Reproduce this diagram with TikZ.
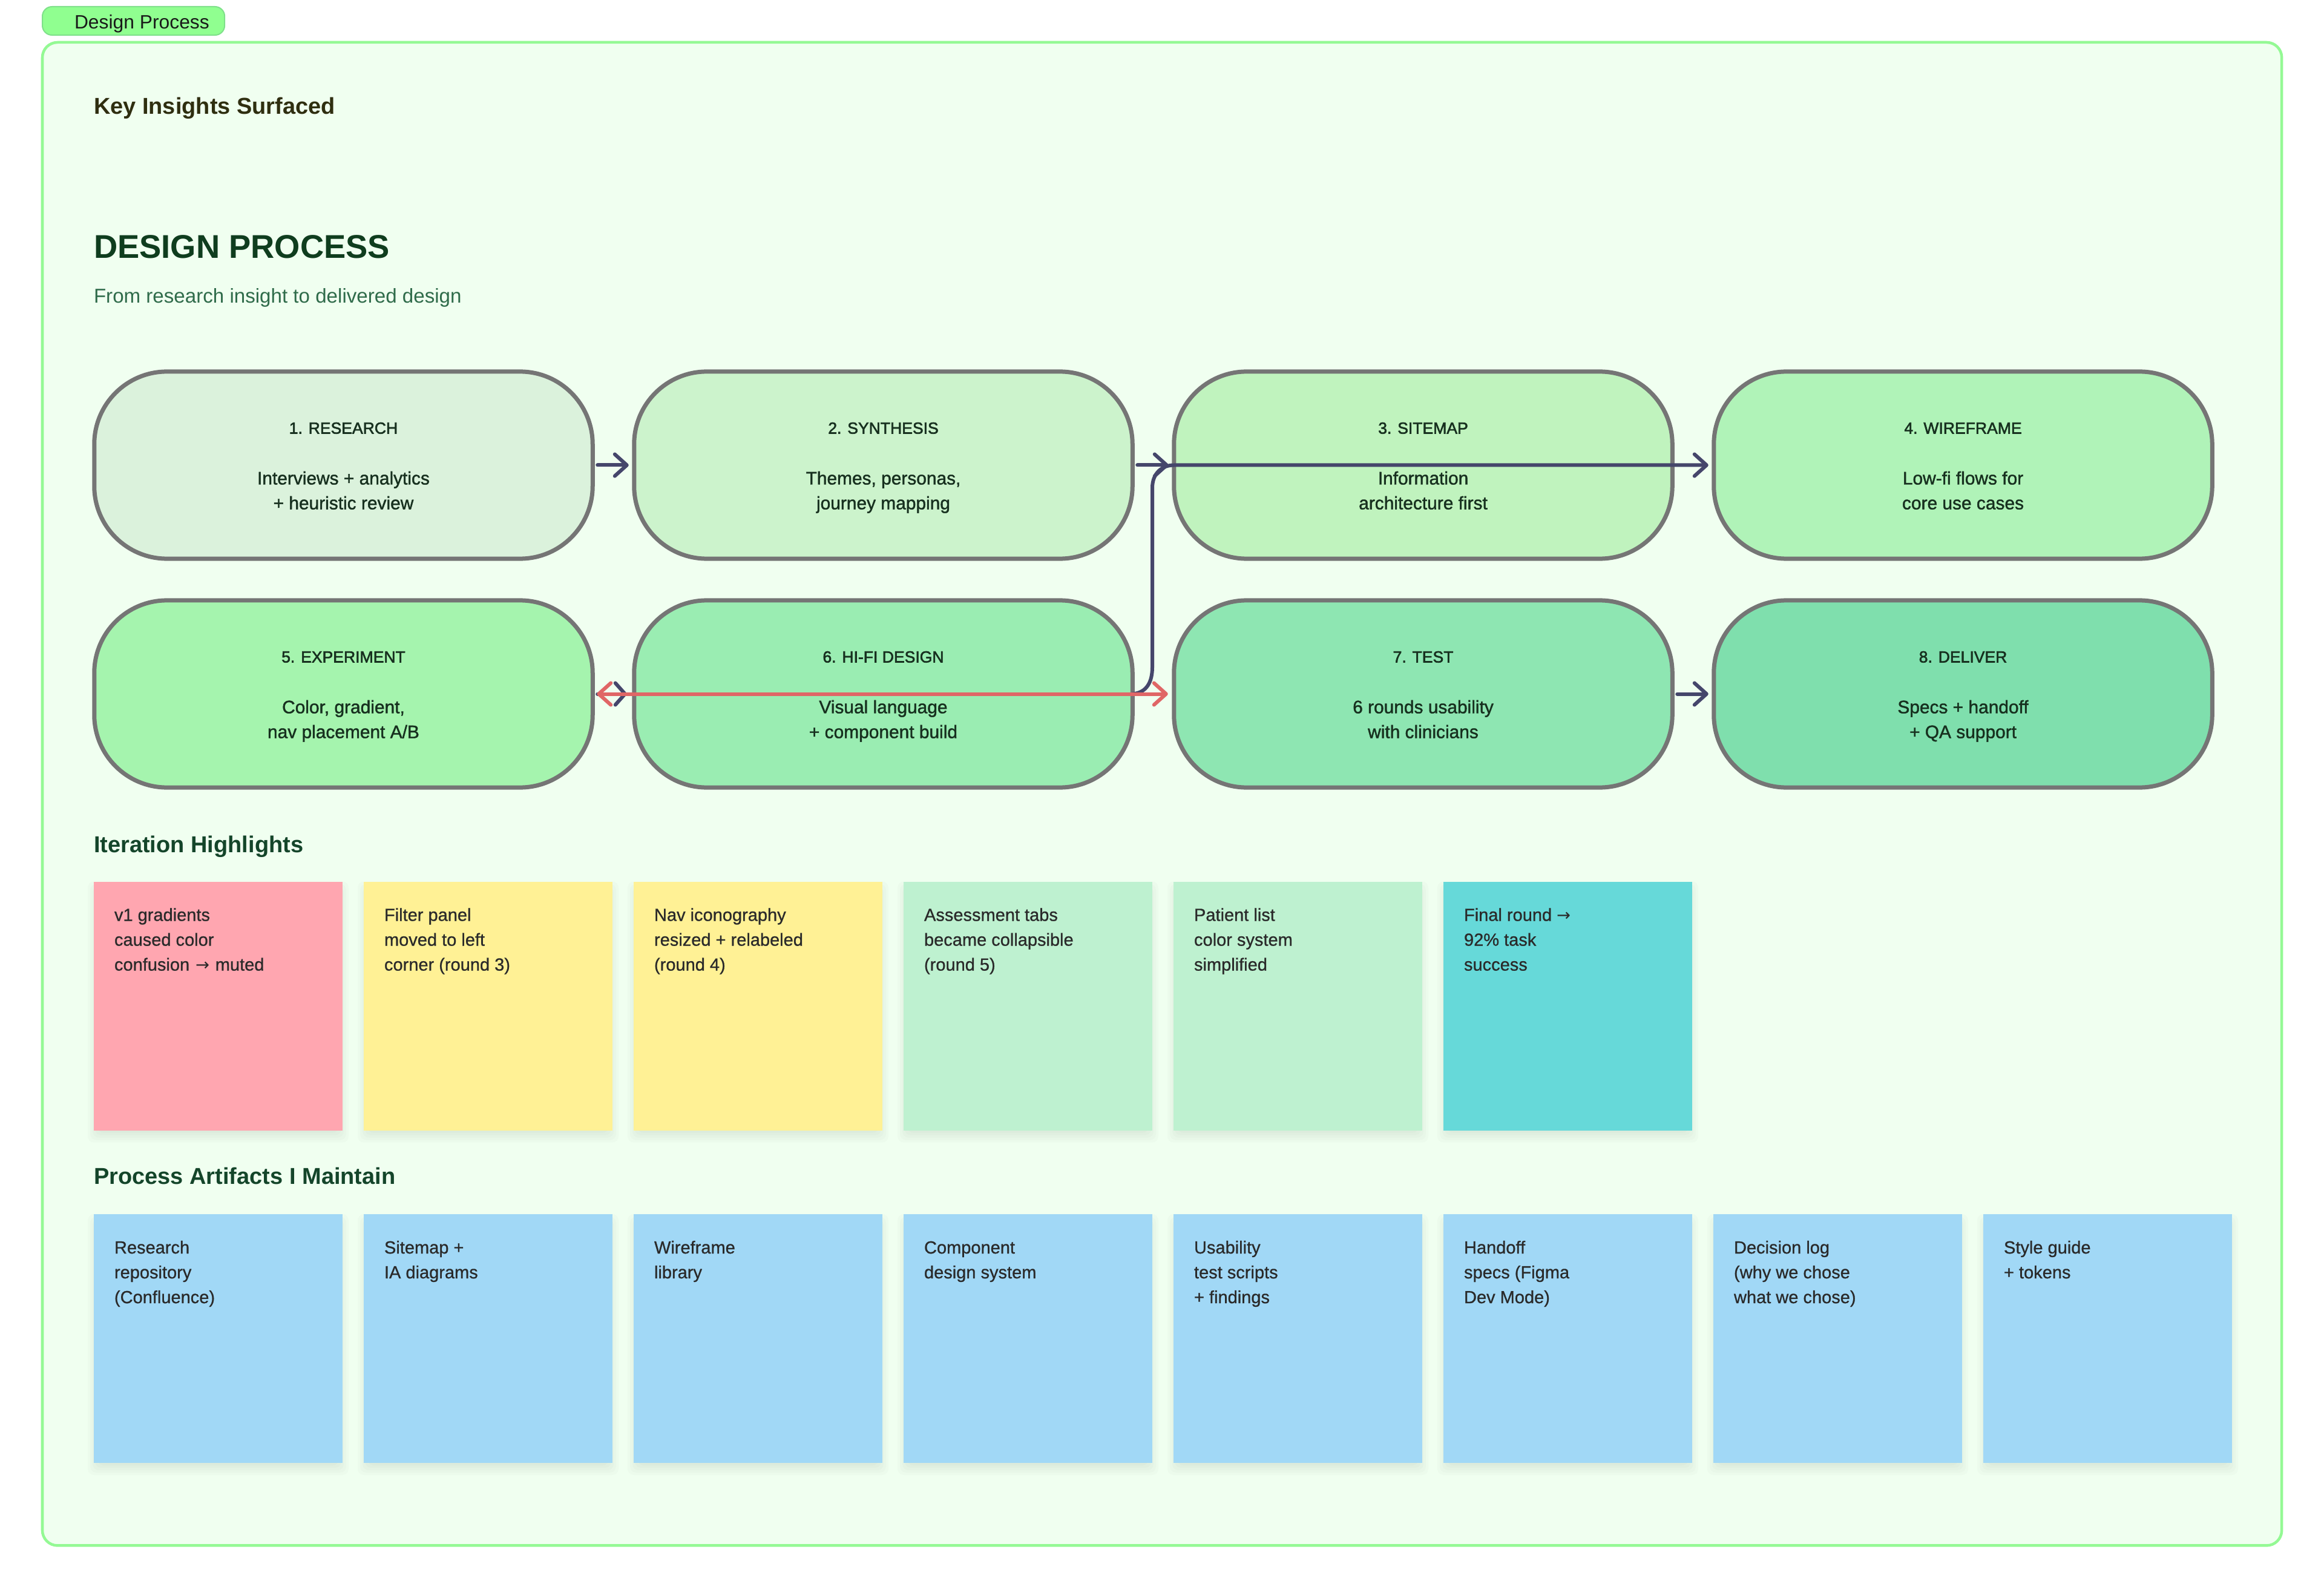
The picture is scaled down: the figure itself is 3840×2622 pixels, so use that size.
\documentclass[tikz,border=0pt]{standalone}
\usepackage{fontspec}
\setmainfont{Liberation Sans}
\newfontfamily\stickyf[FakeBold=0.8]{Liberation Sans}
\newfontfamily\medf[FakeBold=1.4]{Liberation Sans}
\newfontfamily\titlef[FakeBold=2.2]{Liberation Sans}
\newfontfamily\arrowf{DejaVu Sans}
\usetikzlibrary{arrows.meta,calc}
\definecolor{framefill}{HTML}{F0FFF0}
\definecolor{framedraw}{HTML}{94F994}
\definecolor{tagfill}{HTML}{90FF90}
\definecolor{tagdraw}{HTML}{7FE08A}
\definecolor{nodedraw}{HTML}{757575}
\definecolor{navyline}{HTML}{45466B}
\definecolor{redline}{HTML}{E06666}
\definecolor{flowtext}{HTML}{17301F}
\definecolor{headtext}{HTML}{14452A}
\definecolor{keytext}{HTML}{2F2E10}
\definecolor{maintext}{HTML}{0F3D1E}
\definecolor{subtext}{HTML}{2F6B4A}
\definecolor{stickytext}{HTML}{2A2A2A}
\definecolor{nA}{HTML}{DBF2DC}
\definecolor{nB}{HTML}{CCF3CC}
\definecolor{nC}{HTML}{C0F3BE}
\definecolor{nD}{HTML}{B0F3B8}
\definecolor{nE}{HTML}{A5F4AE}
\definecolor{nF}{HTML}{9AEDB2}
\definecolor{nG}{HTML}{8EE6B2}
\definecolor{nH}{HTML}{7FDFAD}
\definecolor{sPink}{HTML}{FFA6B0}
\definecolor{sYellow}{HTML}{FFF195}
\definecolor{sMint}{HTML}{BEF1D0}
\definecolor{sTeal}{HTML}{66D9D9}
\definecolor{sBlue}{HTML}{A1D8F6}
\newcommand{\flowtxt}[3]{\rule{0pt}{7.97pt}{\titlef\fontsize{7.55pt}{11.67pt}\selectfont #1}\\[12.2pt]#2\\#3\rule[-1.99pt]{0pt}{1.99pt}}
\newcommand{\arrowglyph}{{\arrowf\fontsize{7.8pt}{11.67pt}\selectfont →}}
\newcommand{\stickyitem}[5]{%
  \foreach \e in {10,6,2,-2,-6,-10}{
    \fill[black,opacity=0.016,rounded corners=0.1cm] (#2-\e,#3+10-\e) rectangle (#2+411+\e,#3+411+10+\e);
  }
  \node[stickybox,fill=#4] (#1) at (#2,#3) {};
  \node[stickylabel] (#1t) at ($(#1.north west)+(34,42)$) {\rule{0pt}{6.54pt}#5};
}
\tikzset{
  x=0.01cm,y=-0.01cm,
  flownode/.style={draw=nodedraw,line width=0.07cm,rounded corners=1.2cm,minimum width=8.23cm,minimum height=3.09cm,inner sep=0pt,outer sep=0pt,align=center,text=flowtext,font=\medf\fontsize{8.5pt}{11.67pt}\selectfont},
  stickybox/.style={anchor=north west,minimum width=4.11cm,minimum height=4.11cm,inner sep=0pt,outer sep=0pt},
  stickylabel/.style={anchor=north west,inner sep=0pt,outer sep=0pt,align=left,text=stickytext,font=\stickyf\fontsize{8.25pt}{11.67pt}\selectfont},
  plaintext/.style={anchor=base west,inner sep=0pt,outer sep=0pt},
  headline/.style={plaintext,text=headtext,font=\bfseries\fontsize{10.81pt}{13pt}\selectfont},
  barb/.tip={Straight Barb[length=0.2cm,width=0.36cm,round]},
  navyarrow/.style={draw=navyline,line width=0.06cm,line cap=round,-barb,shorten <=0.08cm,shorten >=0.09cm},
  redarrow/.style={draw=redline,line width=0.06cm,line cap=round,barb-barb,shorten <=0.07cm,shorten >=0.1cm},
}
\begin{document}
\begin{tikzpicture}
\useasboundingbox (0,0) rectangle (3840,2622);
\fill[white] (0,0) rectangle (3840,2622);
\node[draw=tagdraw,fill=tagfill,line width=0.02cm,rounded corners=0.16cm,anchor=north west,minimum width=3.01cm,minimum height=0.47cm,inner sep=0pt,outer sep=0pt] (tag) at (70,11) {};
\node[plaintext,text=black!90,font=\fontsize{9.05pt}{11pt}\selectfont] (tagt) at (123,48) {Design Process};
\node[draw=framedraw,fill=framefill,line width=0.045cm,rounded corners=0.25cm,anchor=north west,minimum width=36.98cm,minimum height=24.82cm,inner sep=0pt,outer sep=0pt] (frame) at (70,70) {};
\node[plaintext,text=keytext,font=\bfseries\fontsize{10.8pt}{13pt}\selectfont] (keyi) at (155,188.5) {Key Insights Surfaced};
\node[plaintext,text=maintext,font=\bfseries\fontsize{15.45pt}{18pt}\selectfont] (maint) at (155,427) {DESIGN PROCESS};
\node[plaintext,text=subtext,font=\fontsize{9.42pt}{11pt}\selectfont] (subt) at (155,500.5) {From research insight to delivered design};
\node[flownode,fill=nA] (n1) at (567.5,768.5) {\flowtxt{1. RESEARCH}{Interviews + analytics}{+ heuristic review}};
\node[flownode,fill=nB] (n2) at (1459.5,768.5) {\flowtxt{2. SYNTHESIS}{Themes, personas,}{journey mapping}};
\node[flownode,fill=nC] (n3) at (2351.5,768.5) {\flowtxt{3. SITEMAP}{Information}{architecture first}};
\node[flownode,fill=nD] (n4) at (3243.5,768.5) {\flowtxt{4. WIREFRAME}{Low-fi flows for}{core use cases}};
\node[flownode,fill=nE] (n5) at (567.5,1146.5) {\flowtxt{5. EXPERIMENT}{Color, gradient,}{nav placement A/B}};
\node[flownode,fill=nF] (n6) at (1459.5,1146.5) {\flowtxt{6. HI-FI DESIGN}{Visual language}{+ component build}};
\node[flownode,fill=nG] (n7) at (2351.5,1146.5) {\flowtxt{7. TEST}{6 rounds usability}{with clinicians}};
\node[flownode,fill=nH] (n8) at (3243.5,1146.5) {\flowtxt{8. DELIVER}{Specs + handoff}{+ QA support}};
\coordinate (lowbend) at (1904,1102);
\coordinate (highbend) at (1904,806);
\draw[navyarrow] (n1.east) -- (n2.west);
\draw[navyarrow] (n2.east) -- (n3.west);
\draw[draw=navyline,line width=0.06cm,line cap=round,-{Straight Barb[length=0.16cm,width=0.36cm,round]},shorten <=0.08cm,shorten >=0.12cm] (n5.east) -- (n6.west);
\draw[navyarrow] (n7.east) -- (n8.west);
\draw[navyarrow,shorten <=0pt] (n6.east) .. controls ($(n6.east)+(24,-2)$) and ($(lowbend)+(0,24)$) .. (lowbend) -- (highbend) .. controls ($(highbend)+(0,-24)$) and ($(n3.west)+(-20,0)$) .. (n3.west) -- (n4.west);
\draw[redarrow] (n5.east) -- (n7.west);
\node[headline] (hiter) at (155,1408.5) {Iteration Highlights};
\stickyitem{a1}{155}{1456.5}{sPink}{v1 gradients\\caused color\\confusion\kern0.5pt{} \arrowglyph\kern0.5pt{} muted}
\stickyitem{a2}{601}{1456.5}{sYellow}{Filter panel\\moved to left\\corner (round 3)}
\stickyitem{a3}{1047}{1456.5}{sYellow}{Nav iconography\\resized + relabeled\\(round 4)}
\stickyitem{a4}{1493}{1456.5}{sMint}{Assessment tabs\\became collapsible\\(round 5)}
\stickyitem{a5}{1939}{1456.5}{sMint}{Patient list\\color system\\simplified}
\stickyitem{a6}{2385}{1456.5}{sTeal}{Final round \arrowglyph\\92\% task\\success}
\node[headline] (hproc) at (155,1956.5) {Process Artifacts I Maintain};
\stickyitem{b1}{155}{2006}{sBlue}{Research\\repository\\(Confluence)}
\stickyitem{b2}{601}{2006}{sBlue}{Sitemap +\\IA diagrams}
\stickyitem{b3}{1047}{2006}{sBlue}{Wireframe\\library}
\stickyitem{b4}{1493}{2006}{sBlue}{Component\\design system}
\stickyitem{b5}{1939}{2006}{sBlue}{Usability\\test scripts\\+ findings}
\stickyitem{b6}{2385}{2006}{sBlue}{Handoff\\specs (Figma\\Dev Mode)}
\stickyitem{b7}{2831}{2006}{sBlue}{Decision log\\(why we chose\\what we chose)}
\stickyitem{b8}{3277}{2006}{sBlue}{Style guide\\+ tokens}
\end{tikzpicture}
\end{document}
